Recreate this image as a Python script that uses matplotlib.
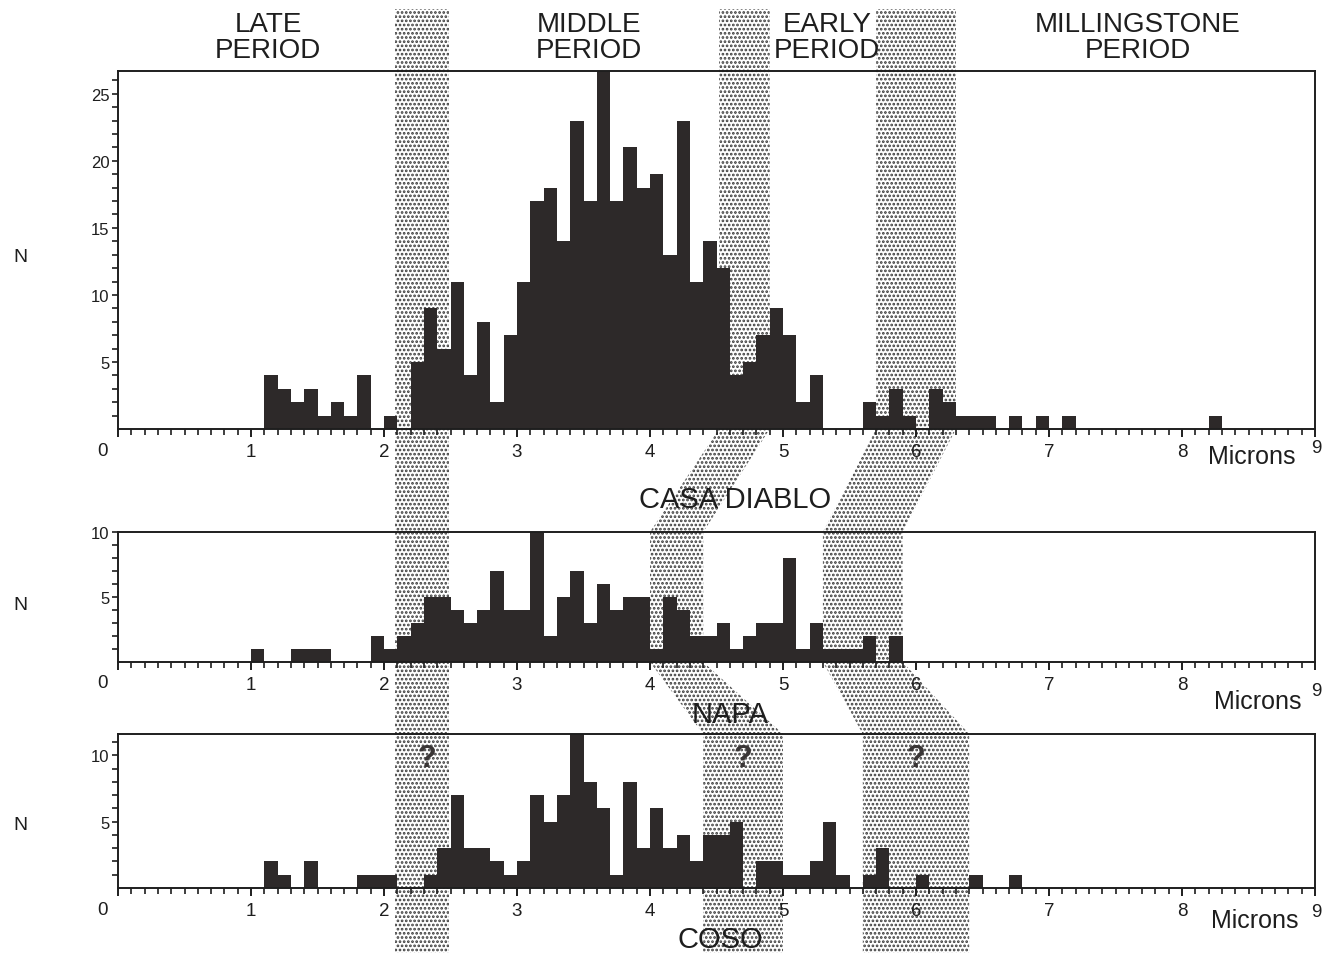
import matplotlib
matplotlib.use('Agg')
import numpy as np
import matplotlib.pyplot as plt
from matplotlib.patches import Polygon
from matplotlib.transforms import blended_transform_factory

plt.rcParams['font.family'] = ['Liberation Sans', 'DejaVu Sans']
plt.rcParams['hatch.linewidth'] = 1.3

# ---------------- data (counts per 0.1 micron bin, 0.0 .. 9.0) ----------------
casa_diablo = [
    0, 0, 0, 0, 0, 0, 0, 0, 0, 0,          # 0.0-0.9
    0, 4, 3, 2, 3, 1, 2, 1, 4, 0,          # 1.0-1.9
    1, 0, 5, 9, 6, 11, 4, 8, 2, 7,         # 2.0-2.9
    11, 17, 18, 14, 23, 17, 27, 17, 21, 18,  # 3.0-3.9
    19, 13, 23, 11, 14, 12, 4, 5, 7, 9,    # 4.0-4.9
    7, 2, 4, 0, 0, 0, 2, 1, 3, 1,          # 5.0-5.9
    0, 3, 2, 1, 1, 1, 0, 1, 0, 1,          # 6.0-6.9
    0, 1, 0, 0, 0, 0, 0, 0, 0, 0,          # 7.0-7.9
    0, 0, 1, 0, 0, 0, 0, 0, 0, 0,          # 8.0-8.9
]
napa = [
    0, 0, 0, 0, 0, 0, 0, 0, 0, 0,
    1, 0, 0, 1, 1, 1, 0, 0, 0, 2,
    1, 2, 3, 5, 5, 4, 3, 4, 7, 4,
    4, 10, 2, 5, 7, 3, 6, 4, 5, 5,
    1, 5, 4, 2, 2, 3, 1, 2, 3, 3,
    8, 1, 3, 1, 1, 1, 2, 0, 2, 0,
    0, 0, 0, 0, 0, 0, 0, 0, 0, 0,
    0, 0, 0, 0, 0, 0, 0, 0, 0, 0,
    0, 0, 0, 0, 0, 0, 0, 0, 0, 0,
]
coso = [
    0, 0, 0, 0, 0, 0, 0, 0, 0, 0,
    0, 2, 1, 0, 2, 0, 0, 0, 1, 1,
    1, 0, 0, 1, 3, 7, 3, 3, 2, 1,
    2, 7, 5, 7, 12, 8, 6, 1, 8, 3,
    6, 3, 4, 2, 4, 4, 5, 0, 2, 2,
    1, 1, 2, 5, 1, 0, 1, 3, 0, 0,
    1, 0, 0, 0, 1, 0, 0, 1, 0, 0,
    0, 0, 0, 0, 0, 0, 0, 0, 0, 0,
    0, 0, 0, 0, 0, 0, 0, 0, 0, 0,
]
site_names = ['CASA DIABLO', 'NAPA', 'COSO']
period_labels = ['LATE\nPERIOD', 'MIDDLE\nPERIOD', 'EARLY\nPERIOD', 'MILLINGSTONE\nPERIOD']
x_tick_labels = ['', '1', '2', '3', '4', '5', '6', '7', '8', '']
y_ticks = [[5, 10, 15, 20, 25], [5, 10], [5, 10]]
y_max = [26.7, 10, 11.6]

# transition bands (microns) per panel: (left, right)
band1 = (2.08, 2.49)
band2 = [(4.52, 4.9), (4.0, 4.4), (4.4, 5.0)]
band3 = [(5.7, 6.3), (5.3, 5.9), (5.6, 6.4)]

# ---------------- layout ----------------
W, H = 1331, 954
fig = plt.figure(figsize=(W / 100, H / 100), dpi=100)


def fx(px):
    return px / W


def fy(py):
    return 1 - py / H


L, R = 118, 1315
panel_px = [(72, 430), (533, 663), (735, 889)]
BAR = '#2d2929'
INK = '#1e1e1e'
edges = np.linspace(0, 9, 91)

axes = []
for i, (vals, (ptop, pbot)) in enumerate(zip([casa_diablo, napa, coso], panel_px)):
    ax = fig.add_axes([fx(L), fy(pbot), fx(R) - fx(L), (pbot - ptop) / H])
    ax.patch.set_visible(False)
    ax.set_xlim(0, 9)
    ax.set_ylim(0, y_max[i])
    ax.stairs(vals, edges, fill=True, color=BAR, zorder=2)
    for s in ax.spines.values():
        s.set_linewidth(1.4)
        s.set_color(INK)
    ax.set_xticks(range(10))
    ax.set_xticklabels(x_tick_labels)
    ax.set_xticks(np.arange(0, 9.01, 0.1), minor=True)
    ax.set_yticks(y_ticks[i])
    ax.set_yticks(np.arange(1, int(y_max[i]) + 1), minor=True)
    ax.tick_params(axis='x', which='major', length=6, width=1.4, color=INK,
                   labelsize=13.5, pad=4, labelcolor=INK)
    ax.tick_params(axis='x', which='minor', length=4, width=1.2, color=INK)
    ax.tick_params(axis='y', which='major', length=4, width=1.2, color=INK,
                   labelsize=12, pad=2, labelcolor=INK)
    ax.tick_params(axis='y', which='minor', length=4, width=1.2, color=INK)
    axes.append(ax)

# ---------------- stippled bands ----------------
tr = blended_transform_factory(axes[0].transData, fig.transFigure)
y_top = fy(10)
y1b = fy(430)
y2t = fy(533)
y2b = fy(663)
y3t = fy(735)
y_end = -0.01

band_style = dict(facecolor='white', edgecolor='#3a3a3a', hatch='....', lw=0,
                  transform=tr, zorder=-1)

fig.add_artist(Polygon([(band1[0], y_top), (band1[1], y_top),
                        (band1[1], y_end), (band1[0], y_end)], closed=True, **band_style))

for band in (band2, band3):
    (a0, a1), (b0, b1), (c0, c1) = band
    verts = [(a0, y_top), (a1, y_top), (a1, y1b), (b1, y2t), (b1, y2b), (c1, y3t),
             (c1, y_end), (c0, y_end), (c0, y3t), (b0, y2b), (b0, y2t), (a0, y1b)]
    fig.add_artist(Polygon(verts, closed=True, **band_style))

# ---------------- texts ----------------
for lbl, cx in zip(period_labels, [268, 589, 827, 1138]):
    fig.text(fx(cx), fy(38), lbl, ha='center', va='center', fontsize=20,
             linespacing=1.0, color=INK)

for ny in [258, 605, 826]:
    fig.text(fx(20), fy(ny), 'N', ha='center', va='center', fontsize=14, color=INK)

zero_y = [451, 684, 911]
nine_y = [449, 691, 913]
mic_y = [457, 702, 921]
mic_x = [1252, 1258, 1255]
for zy, ny9, my, mx in zip(zero_y, nine_y, mic_y, mic_x):
    fig.text(fx(103), fy(zy), '0', ha='center', va='center', fontsize=13.5, color=INK)
    fig.text(fx(1316), fy(ny9), '9', ha='center', va='center', fontsize=13.5, color=INK)
    fig.text(fx(mx), fy(my), 'Microns', ha='center', va='center', fontsize=18, color=INK)

for name, (cx, cy) in zip(site_names, [(735, 500), (730, 715), (720, 940)]):
    fig.text(fx(cx), fy(cy), name, ha='center', va='center', fontsize=21, color=INK,
             zorder=5)

for qx in [2.32, 4.70, 6.0]:
    axes[2].text(qx, 9.8, '?', ha='center', va='center', fontsize=22,
                 fontweight='bold', color='#3a3636', zorder=4)

fig.savefig('out.png', dpi=100)
